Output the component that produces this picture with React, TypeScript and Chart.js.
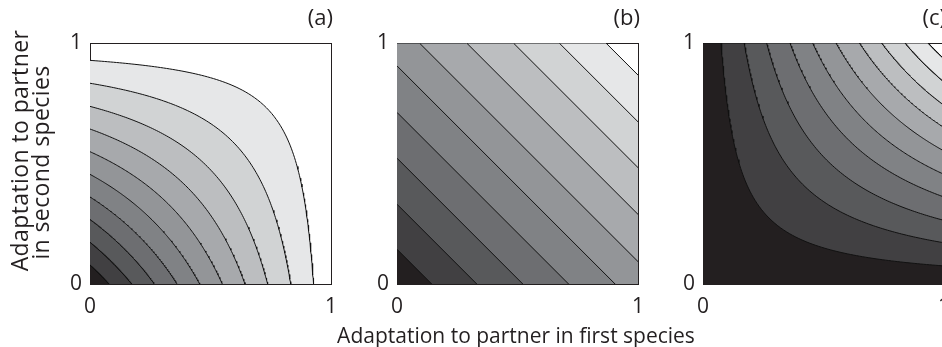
import React, { useEffect, useRef } from 'react';
import { Chart, registerables } from 'chart.js';
Chart.register(...registerables);

const FONT = '"Open Sans", "Noto Sans", sans-serif';
const INK = '#231f20';

// Contour levels (where each contour meets the axes)
const levelsA = [0.079, 0.173, 0.267, 0.361, 0.455, 0.549, 0.643, 0.737, 0.833, 0.928]; // surface 1-(1-x)(1-y)
const levelsB = [0.144, 0.331, 0.522, 0.712, 0.905, 1.093, 1.289, 1.483, 1.673, 1.867]; // surface x+y
const levelsC = [0.075, 0.171, 0.264, 0.361, 0.455, 0.552, 0.649, 0.741, 0.838, 0.934]; // surface x*y
const bandColors = ['#231f20', '#414042', '#58595b', '#6d6e71', '#808285', '#939598', '#a7a9ac', '#bcbec0', '#d1d3d4', '#e6e7e8'];
const panelLabels = ['(a)', '(b)', '(c)'];
const axisTicks = [0, 1];
const yTitle = ['Adaptation to partner', 'in second species'];
const xTitle = 'Adaptation to partner in first species';

type P = { x: number; y: number };
const N = 60;

// contour of 1-(1-x)(1-y) = L
function contourA(L: number): P[] {
  const xd = 1 - Math.sqrt(1 - L);
  const half: P[] = [];
  for (let i = 0; i <= N; i++) {
    const x = (xd * i) / N;
    half.push({ x, y: 1 - (1 - L) / (1 - x) });
  }
  const pts = [...half];
  for (let i = N - 1; i >= 0; i--) pts.push({ x: half[i].y, y: half[i].x });
  return pts;
}
// contour of x+y = c
function contourB(c: number): P[] {
  if (c <= 1) return [{ x: 0, y: c }, { x: c, y: 0 }];
  return [{ x: 0, y: 1 }, { x: c - 1, y: 1 }, { x: 1, y: c - 1 }];
}
// contour of x*y = L
function contourC(L: number): P[] {
  const s = Math.sqrt(L);
  const pts: P[] = [{ x: 0, y: 1 }];
  for (let i = 0; i <= N; i++) {
    const y = 1 - ((1 - s) * i) / N;
    pts.push({ x: L / y, y });
  }
  for (let i = 1; i <= N; i++) {
    const x = s + ((1 - s) * i) / N;
    pts.push({ x, y: L / x });
  }
  return pts;
}

const panels = [
  { levels: levelsA, curve: contourA, canvasLeft: 0, canvasW: 340, areaLeft: 90 },
  { levels: levelsB, curve: contourB, canvasLeft: 320, canvasW: 400, areaLeft: 397 },
  { levels: levelsC, curve: contourC, canvasLeft: 646, canvasW: 300, areaLeft: 703 },
];
const H = 347;
const AREA_TOP = 43;
const AREA_BOTTOM = 284;
const AREA_W = 241;

function noPad(s: any) {
  s.paddingLeft = 0;
  s.paddingRight = 0;
  s.paddingTop = 0;
  s.paddingBottom = 0;
}

export default function App() {
  const refs = [useRef<HTMLCanvasElement>(null), useRef<HTMLCanvasElement>(null), useRef<HTMLCanvasElement>(null)];

  useEffect(() => {
    let cancelled = false;
    const charts: Chart[] = [];
    const build = () => {
      if (cancelled) return;
      panels.forEach((p, pi) => {
        const canvas = refs[pi].current;
        if (!canvas) return;
        const yW = p.areaLeft - p.canvasLeft;
        const rightPad = p.canvasW - (p.areaLeft + AREA_W - p.canvasLeft);
        const annot = {
          id: 'annot' + pi,
          afterDraw(chart: any) {
            const { ctx, chartArea } = chart;
            ctx.save();
            ctx.fillStyle = INK;
            ctx.font = `22px ${FONT}`;
            ctx.textAlign = 'right';
            ctx.textBaseline = 'alphabetic';
            ctx.fillText(panelLabels[pi], chartArea.right + 2, 25);
            if (pi === 0) {
              ctx.textAlign = 'center';
              ctx.font = `23px ${FONT}`;
              try { (ctx as any).letterSpacing = '0.4px'; } catch (e) {}
              const spots = [
                { x: 28, y: 150.5 },
                { x: 48.5, y: 162.5 },
              ];
              yTitle.forEach((t, i) => {
                ctx.save();
                ctx.translate(spots[i].x, spots[i].y);
                ctx.rotate(-Math.PI / 2);
                ctx.fillText(t, 0, 0);
                ctx.restore();
              });
            }
            if (pi === 1) {
              ctx.textAlign = 'center';
              ctx.font = `21px ${FONT}`;
              ctx.fillText(xTitle, (chartArea.left + chartArea.right) / 2 - 1.5, 343);
            }
            ctx.restore();
          },
        };
        const tickFont = { family: FONT, size: 21 };
        const chart = new Chart(canvas, {
          type: 'line',
          data: {
            datasets: p.levels.map((L, i) => ({
              data: p.curve(L),
              backgroundColor: bandColors[i],
              borderColor: '#111111',
              borderWidth: 1,
              fill: 'start',
              pointRadius: 0,
              tension: 0,
            })),
          },
          options: {
            responsive: false,
            maintainAspectRatio: false,
            animation: false,
            events: [],
            layout: { autoPadding: false, padding: { top: AREA_TOP, right: rightPad, left: 0, bottom: 0 } },
            plugins: { legend: { display: false }, tooltip: { enabled: false }, title: { display: false } },
            scales: {
              x: {
                type: 'linear',
                position: 'bottom',
                min: 0,
                max: 1,
                afterBuildTicks: (s: any) => {
                  s.ticks = axisTicks.map((v) => ({ value: v }));
                },
                ticks: { font: tickFont, color: INK, padding: 10, maxRotation: 0, autoSkip: false },
                grid: { display: false, drawTicks: false },
                border: { display: true, color: INK, width: 1 },
                afterFit: (s: any) => {
                  s.height = H - AREA_BOTTOM;
                  noPad(s);
                },
              },
              y: {
                type: 'linear',
                position: 'left',
                min: 0,
                max: 1,
                afterBuildTicks: (s: any) => {
                  s.ticks = axisTicks.map((v) => ({ value: v }));
                },
                ticks: { font: tickFont, color: INK, padding: 8, autoSkip: false },
                grid: { display: false, drawTicks: false },
                border: { display: true, color: INK, width: 1 },
                afterFit: (s: any) => {
                  s.width = yW;
                  noPad(s);
                },
              },
              x2: {
                type: 'linear',
                position: 'top',
                min: 0,
                max: 1,
                ticks: { display: false },
                grid: { display: false, drawTicks: false },
                border: { display: true, color: INK, width: 1 },
                afterFit: (s: any) => {
                  s.height = 0;
                  noPad(s);
                },
              },
              y2: {
                type: 'linear',
                position: 'right',
                min: 0,
                max: 1,
                ticks: { display: false },
                grid: { display: false, drawTicks: false },
                border: { display: true, color: INK, width: 1 },
                afterFit: (s: any) => {
                  s.width = 0;
                  noPad(s);
                },
              },
            },
          },
          plugins: [annot],
        } as any);
        charts.push(chart);
      });
    };
    if ((document as any).fonts && (document as any).fonts.load) {
      (document as any).fonts.load(`20px ${FONT}`).then(build, build);
    } else build();
    return () => {
      cancelled = true;
      charts.forEach((c) => c.destroy());
    };
  }, []);

  return (
    <div style={{ position: 'fixed', left: 0, top: 0, width: 942, height: H, overflow: 'hidden', background: '#fff' }}>
      {panels.map((p, i) => (
        <canvas
          key={i}
          ref={refs[i]}
          width={p.canvasW}
          height={H}
          style={{ position: 'absolute', left: p.canvasLeft, top: 0, width: p.canvasW, height: H }}
        />
      ))}
    </div>
  );
}
